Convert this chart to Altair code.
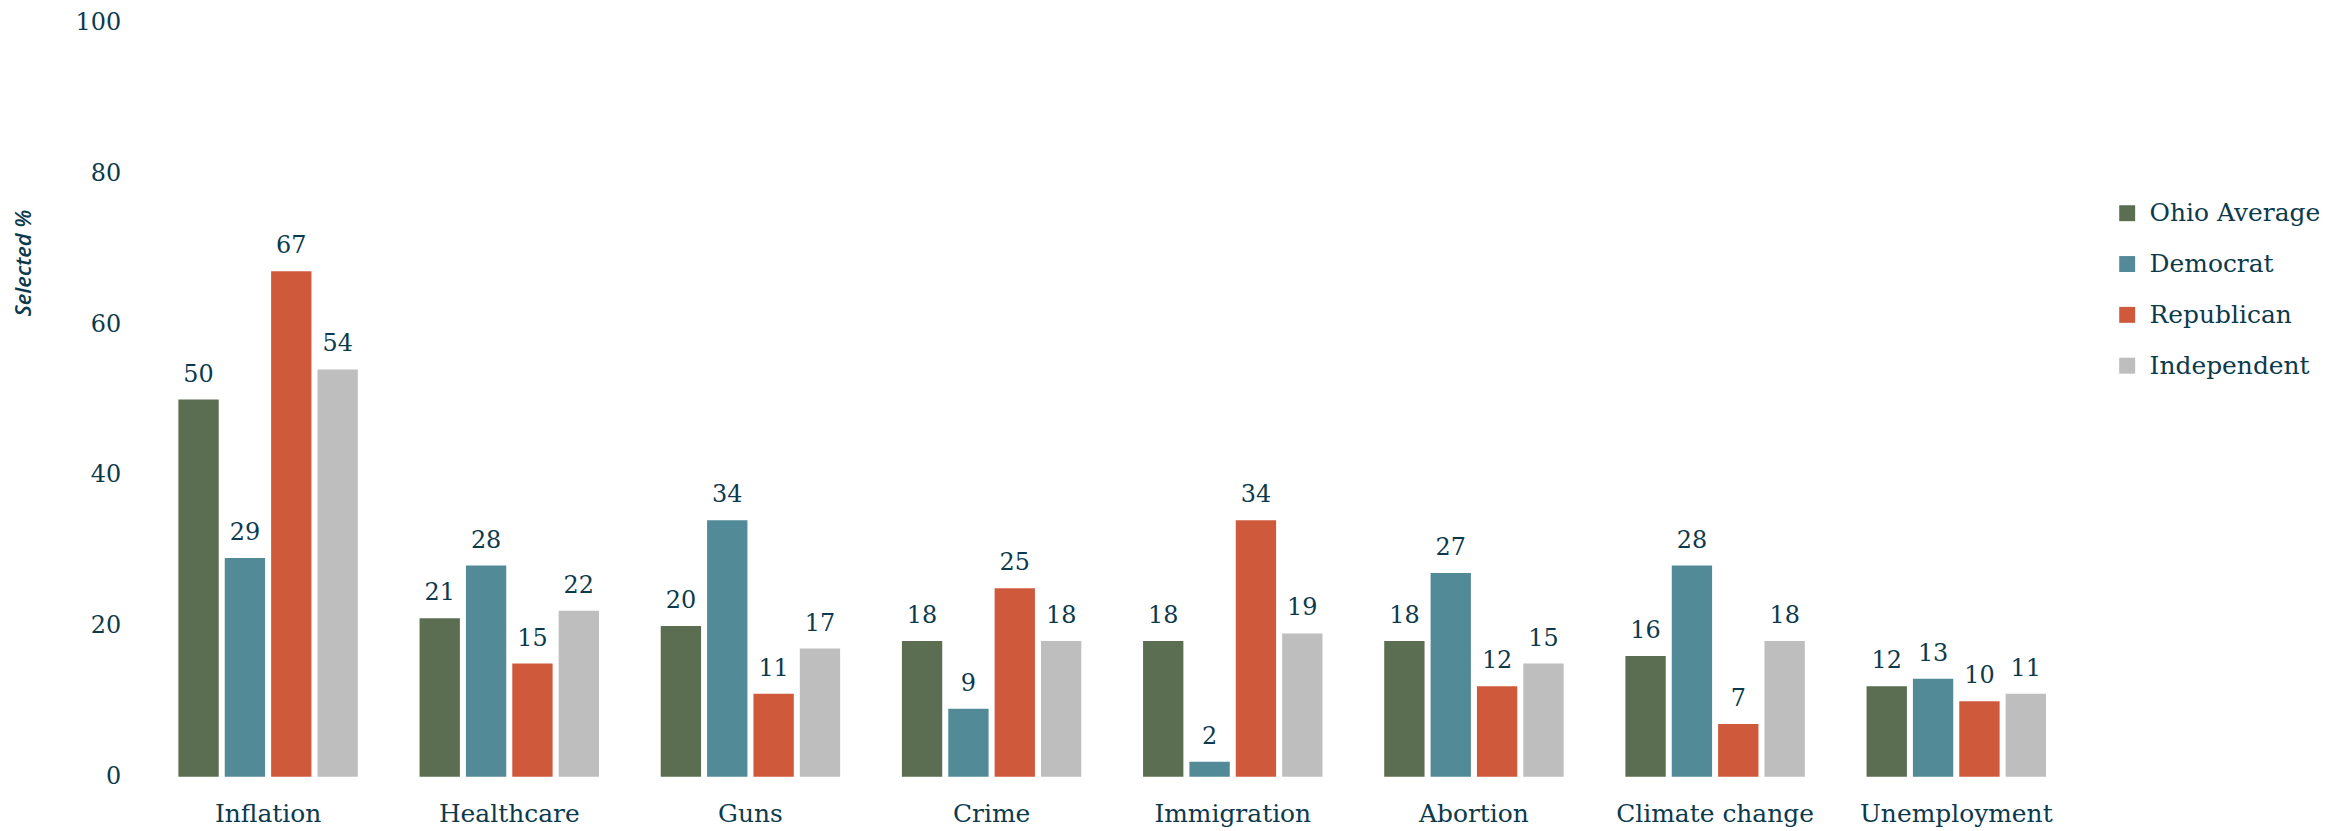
import altair as alt
import pandas as pd

categories = ["Inflation", "Healthcare", "Guns", "Crime", "Immigration",
              "Abortion", "Climate change", "Unemployment"]
parties = ["Ohio Average", "Democrat", "Republican", "Independent"]
colors = ["#5b6e51", "#528a97", "#cf5a3b", "#bebebe"]

ohio_average = [50, 21, 20, 18, 18, 18, 16, 12]
democrat = [29, 28, 34, 9, 2, 27, 28, 13]
republican = [67, 15, 11, 25, 34, 12, 7, 10]
independent = [54, 22, 17, 18, 19, 15, 18, 11]

series = {
    "Ohio Average": ohio_average,
    "Democrat": democrat,
    "Republican": republican,
    "Independent": independent,
}

rows = []
for p in parties:
    for c, v in zip(categories, series[p]):
        rows.append({"category": c, "party": p, "value": v})
df = pd.DataFrame(rows)

TEXT = "#0c3a4c"
FONT = "DejaVu Serif"

x_enc = alt.X(
    "category:N",
    sort=categories,
    scale=alt.Scale(paddingInner=0.256, paddingOuter=0.128),
    axis=alt.Axis(title=None, labelAngle=0, domain=False, ticks=False,
                  labelPadding=25, labelFont=FONT, labelFontSize=25,
                  labelColor=TEXT, labelLimit=400),
)
xoff_enc = alt.XOffset(
    "party:N", sort=parties,
    scale=alt.Scale(paddingInner=0.13, paddingOuter=0),
)
y_enc = alt.Y(
    "value:Q",
    scale=alt.Scale(domain=[0, 100], nice=False),
    axis=alt.Axis(values=[0, 20, 40, 60, 80, 100], grid=False, domain=False,
                  ticks=False, labelPadding=27, labelFont=FONT,
                  labelFontSize=24, labelColor=TEXT,
                  title="Selected %", titleFont="Open Sans",
                  titleFontStyle="italic", titleFontWeight=600,
                  titleFontSize=22, titleColor=TEXT, titleAngle=270,
                  titleX=-124, titleY=241, titleBaseline="middle",
                  titleAlign="center"),
)

bars = alt.Chart(df).mark_bar().encode(
    x=x_enc,
    xOffset=xoff_enc,
    y=y_enc,
    color=alt.Color(
        "party:N", sort=parties,
        scale=alt.Scale(domain=parties, range=colors),
        legend=alt.Legend(title=None, orient="none", legendX=1974,
                          legendY=179, symbolType="square",
                          symbolSize=256, symbolStrokeWidth=0,
                          labelFont=FONT, labelFontSize=25,
                          labelColor=TEXT, labelOffset=10,
                          labelLimit=400, rowPadding=25, padding=0),
    ),
)

labels = alt.Chart(df).mark_text(
    baseline="alphabetic", align="center", dy=-18,
    font=FONT, fontSize=24, color=TEXT,
).encode(
    x=alt.X("category:N", sort=categories),
    xOffset=alt.XOffset("party:N", sort=parties),
    y=alt.Y("value:Q"),
    text=alt.Text("value:Q"),
)

chart = alt.layer(bars, labels).properties(
    width=1936,
    height=757,
    padding={"left": 140, "top": 13, "right": 247, "bottom": 53},
    autosize=alt.AutoSizeParams(type="none"),
).configure_view(stroke=None)

chart.save("out.html", embed_options={"renderer": "svg", "actions": False})
